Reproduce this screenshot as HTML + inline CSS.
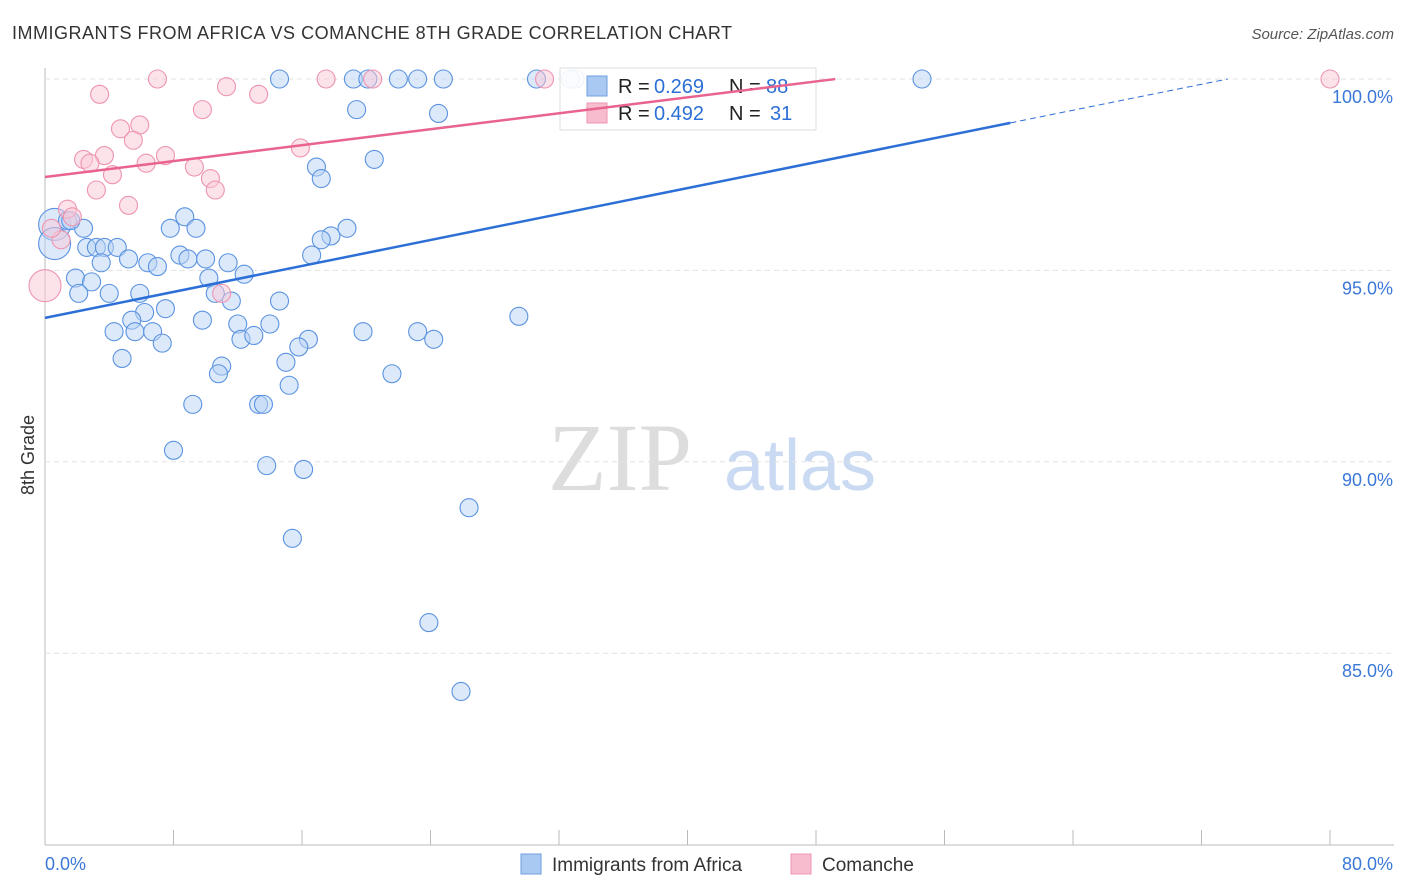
<!DOCTYPE html>
<html><head><meta charset="utf-8"><style>
body{margin:0;background:#fff;font-family:"Liberation Sans",sans-serif}
svg{display:block}
</style></head><body>
<svg id="c" width="1406" height="892">
<text x="12" y="39" font-size="18" fill="#333" textLength="720">IMMIGRANTS FROM AFRICA VS COMANCHE 8TH GRADE CORRELATION CHART</text>
<text x="1394" y="39" font-size="15" fill="#555" font-style="italic" text-anchor="end">Source: ZipAtlas.com</text>
<text x="620" y="490" font-size="96" fill="#ddd" font-family="Liberation Serif" text-anchor="middle">ZIP</text>
<text x="800" y="490" font-size="72" fill="#c9daf2" text-anchor="middle">atlas</text>
<text transform="translate(34,455) rotate(-90)" font-size="18" fill="#333" text-anchor="middle">8th Grade</text>
<g id="grid"></g><g id="pts"></g>
<g>
<rect x="560" y="68" width="256" height="62" fill="#fff" fill-opacity="0.9" stroke="#ddd"/>
<rect x="587" y="76" width="20" height="20" fill="#a9c8f2" stroke="#6e9fe0"/>
<rect x="587" y="103" width="20" height="20" fill="#f7bccd" stroke="#ee94b0"/>
<text x="618" y="93" font-size="20" fill="#222">R =</text><text x="654" y="93" font-size="20" fill="#2c6fd6">0.269</text>
<text x="729" y="93" font-size="20" fill="#222">N =</text><text x="766" y="93" font-size="20" fill="#2c6fd6">88</text>
<text x="618" y="120" font-size="20" fill="#222">R =</text><text x="654" y="120" font-size="20" fill="#2c6fd6">0.492</text>
<text x="729" y="120" font-size="20" fill="#222">N =</text><text x="770" y="120" font-size="20" fill="#2c6fd6">31</text>
</g>
<g id="lines"></g>
<g>
<rect x="521" y="854" width="20" height="20" fill="#a9c8f2" stroke="#6e9fe0"/>
<text x="552" y="871" font-size="19" fill="#333">Immigrants from Africa</text>
<rect x="791" y="854" width="20" height="20" fill="#f7bccd" stroke="#ee94b0"/>
<text x="822" y="871" font-size="19" fill="#333">Comanche</text>
</g>
</svg>
<script>
const yTicks=[85,90,95,100];
const xTickLabels=["0.0%","80.0%"];
const blueX=[14.6,19.2,20.1,22.0,23.2,24.8,30.6,33.0,32.7,54.6,19.4,24.5,20.5,16.9,17.2,0.6,1.4,2.4,1.6,8.7,7.8,9.4,18.8,17.8,17.2,16.6,2.6,3.2,3.7,4.5,3.5,5.2,6.4,7.0,8.4,8.9,10.0,11.4,12.4,10.2,1.9,2.9,2.1,4.0,5.9,10.6,11.6,14.6,7.5,6.2,5.4,9.8,12.0,14.0,4.3,5.6,6.7,7.3,12.2,13.0,16.4,15.8,19.8,23.2,24.2,29.5,4.8,11.0,10.8,15.0,21.6,15.2,9.2,13.3,13.6,8.0,13.8,16.1,26.4,15.4,23.9,25.9,0.6];
const blueY=[100,100,100,100,100,100,100,100,100,100,99.2,99.1,97.9,97.7,97.4,96.2,96.3,96.1,96.3,96.4,96.1,96.1,96.1,95.9,95.8,95.4,95.6,95.6,95.6,95.6,95.2,95.3,95.2,95.1,95.4,95.3,95.3,95.2,94.9,94.8,94.8,94.7,94.4,94.4,94.4,94.4,94.2,94.2,94.0,93.9,93.7,93.7,93.6,93.6,93.4,93.4,93.4,93.1,93.2,93.3,93.2,93.0,93.4,93.4,93.2,93.8,92.7,92.5,92.3,92.6,92.3,92.0,91.5,91.5,91.5,90.3,89.9,89.8,88.8,88.0,85.8,84.0,95.7];
const blueBig=[15,82];
const pinkX=[7.0,17.5,20.4,31.1,80,3.4,11.3,13.3,9.8,5.9,4.7,5.5,3.7,2.4,2.8,6.3,7.5,9.3,15.9,4.2,10.3,3.2,10.6,5.2,1.4,1.7,1.0,0.0,11.0,0.4];
const pinkY=[100,100,100,100,100,99.6,99.8,99.6,99.2,98.8,98.7,98.4,98.0,97.9,97.8,97.8,98.0,97.7,98.2,97.5,97.4,97.1,97.1,96.7,96.6,96.4,95.8,94.6,94.4,96.1];
const pinkBig=[27];
const blueTrend=[93.76,100.54];
const pinkTrend=[97.44,101.6];
const X0=45,X1=1330,Y100=79,PX5=191.4;
const sx=v=>X0+(v/80)*(X1-X0);
const sy=v=>Y100+(100-v)/5*PX5;
const NS="http://www.w3.org/2000/svg";
function mk(t,a,p){const e=document.createElementNS(NS,t);for(const k in a)e.setAttribute(k,a[k]);p.appendChild(e);return e;}
const grid=document.getElementById('grid');
const ax=mk('line',{x1:45,y1:68,x2:45,y2:845,stroke:'#bbb'},grid);


const bx=mk('line',{x1:45,y1:845,x2:1394,y2:845,stroke:'#bbb'},grid);


for(let i=0;i<=10;i++){const tx=sx(i*8);const t=mk('line',{x1:tx,y1:830,x2:tx,y2:845,stroke:'#bbb'},grid);

}
yTicks.forEach(v=>{const y=sy(v);const g=mk('line',{x1:45,y1:y,x2:1394,y2:y,stroke:'#e2e2e2','stroke-dasharray':'5,4'},grid);


const t=mk('text',{x:1393,y:y+24,'font-size':18,fill:'#3b78d8','text-anchor':'end'},grid);t.textContent=v.toFixed(1)+'%';

});
xTickLabels.forEach((s,i)=>{const t=mk('text',{x:i?1393:45,y:870,'font-size':18,fill:'#3b78d8','text-anchor':i?'end':'start'},grid);t.textContent=s;

});
const pts=document.getElementById('pts');
blueX.forEach((v,i)=>{const c=mk('circle',{cx:sx(v),cy:sy(blueY[i]),r:blueBig.includes(i)?16:9,fill:'#b9d3f5','fill-opacity':0.5,stroke:'#5b93e0','stroke-width':1.1},pts);

});
pinkX.forEach((v,i)=>{const c=mk('circle',{cx:sx(v),cy:sy(pinkY[i]),r:pinkBig.includes(i)?16:9,fill:'#f9c8d6','fill-opacity':0.5,stroke:'#ee94b0','stroke-width':1.1},pts);

});
const L=document.getElementById('lines');
function trend(tr,solidTo,col,name,dash){const f=x=>tr[0]+(tr[1]-tr[0])*x/80;
const a=mk('line',{x1:sx(0),y1:sy(f(0)),x2:sx(solidTo),y2:sy(f(solidTo)),stroke:col,'stroke-width':2.5},L);


if(!dash)return;
const xe=Math.min(80,80*(100-tr[0])/(tr[1]-tr[0]));
const b=mk('line',{x1:sx(solidTo),y1:sy(f(solidTo)),x2:sx(xe),y2:sy(f(xe)),stroke:col,'stroke-width':1,'stroke-dasharray':'6,4'},L);

}
trend(blueTrend,60.1,'#2c6fd6','trend-africa',true);
trend(pinkTrend,49.2,'#e8638e','trend-comanche',false);
</script>
</body></html>
